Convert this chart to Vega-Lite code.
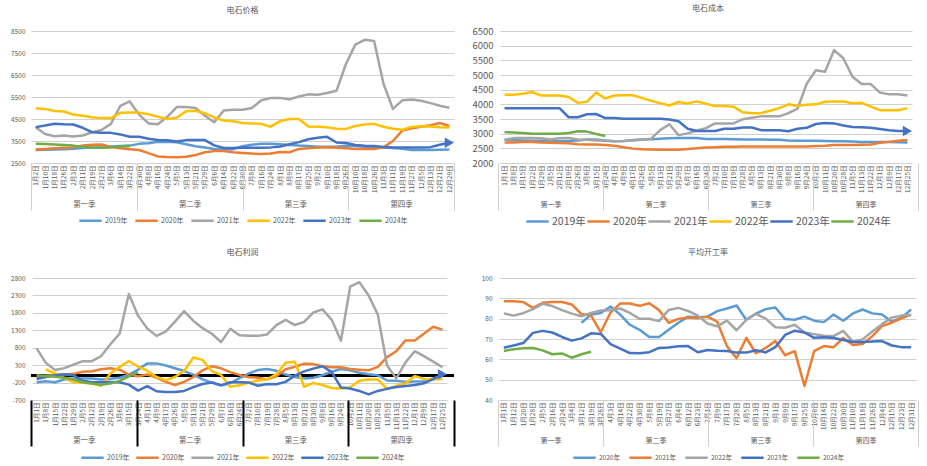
{
"$schema":"https://vega.github.io/schema/vega-lite/v6.json",
"padding":{"left":10,"top":5,"right":0,"bottom":0},
"background":"white",
"config":{"font":"Noto Sans CJK SC","view":{"stroke":null},
"title":{"fontSize":8,"fontWeight":"normal","color":"#595959","font":"Noto Sans CJK SC","anchor":"middle"},
"axis":{"labelFont":"Noto Sans CJK SC","labelColor":"#595959","gridColor":"#d0d0d0","domainColor":"#d0d0d0","tickColor":"#d0d0d0"},
"axisY":{"grid":true,"labelOverlap":false,"gridColor":"#d0d0d0","gridWidth":1},
"legend":{"layout":{"bottom":{"anchor":"middle"}},"labelFont":"Noto Sans CJK SC"}},
"columns":2,"spacing":{"row":115,"column":44},"bounds":"flush",
"resolve":{"scale":{"color":"independent"},"legend":{"color":"independent"}},
"datasets":{
"a":[
{"d":"1月2日","yr":"2019年","v":3090},{"d":"1月10日","yr":"2019年","v":3100},{"d":"1月18日","yr":"2019年","v":3110},{"d":"1月26日","yr":"2019年","v":3120},{"d":"2月3日","yr":"2019年","v":3150},{"d":"2月11日","yr":"2019年","v":3180},{"d":"2月19日","yr":"2019年","v":3200},{"d":"2月27日","yr":"2019年","v":3210},{"d":"3月6日","yr":"2019年","v":3250},{"d":"3月14日","yr":"2019年","v":3270},{"d":"3月22日","yr":"2019年","v":3290},{"d":"3月30日","yr":"2019年","v":3370},{"d":"4月8日","yr":"2019年","v":3400},{"d":"4月16日","yr":"2019年","v":3460},{"d":"4月24日","yr":"2019年","v":3470},{"d":"5月5日","yr":"2019年","v":3440},{"d":"5月13日","yr":"2019年","v":3350},{"d":"5月21日","yr":"2019年","v":3260},{"d":"5月29日","yr":"2019年","v":3200},{"d":"6月6日","yr":"2019年","v":3140},{"d":"6月14日","yr":"2019年","v":3100},{"d":"6月22日","yr":"2019年","v":3120},{"d":"6月30日","yr":"2019年","v":3260},{"d":"7月8日","yr":"2019年","v":3330},{"d":"7月16日","yr":"2019年","v":3370},{"d":"7月24日","yr":"2019年","v":3370},{"d":"8月1日","yr":"2019年","v":3350},{"d":"8月9日","yr":"2019年","v":3320},{"d":"8月17日","yr":"2019年","v":3290},{"d":"8月25日","yr":"2019年","v":3270},{"d":"9月2日","yr":"2019年","v":3240},{"d":"9月10日","yr":"2019年","v":3240},{"d":"9月18日","yr":"2019年","v":3240},{"d":"9月26日","yr":"2019年","v":3280},{"d":"10月10日","yr":"2019年","v":3270},{"d":"10月18日","yr":"2019年","v":3240},{"d":"10月26日","yr":"2019年","v":3230},{"d":"11月3日","yr":"2019年","v":3210},{"d":"11月11日","yr":"2019年","v":3180},{"d":"11月19日","yr":"2019年","v":3150},{"d":"11月27日","yr":"2019年","v":3090},{"d":"12月5日","yr":"2019年","v":3090},{"d":"12月13日","yr":"2019年","v":3090},{"d":"12月21日","yr":"2019年","v":3100},{"d":"12月29日","yr":"2019年","v":3110},
{"d":"1月2日","yr":"2020年","v":3110},{"d":"1月10日","yr":"2020年","v":3140},{"d":"1月18日","yr":"2020年","v":3170},{"d":"1月26日","yr":"2020年","v":3190},{"d":"2月3日","yr":"2020年","v":3210},{"d":"2月11日","yr":"2020年","v":3300},{"d":"2月19日","yr":"2020年","v":3330},{"d":"2月27日","yr":"2020年","v":3340},{"d":"3月6日","yr":"2020年","v":3230},{"d":"3月14日","yr":"2020年","v":3170},{"d":"3月22日","yr":"2020年","v":3130},{"d":"3月30日","yr":"2020年","v":3090},{"d":"4月8日","yr":"2020年","v":2950},{"d":"4月16日","yr":"2020年","v":2800},{"d":"4月24日","yr":"2020年","v":2770},{"d":"5月5日","yr":"2020年","v":2760},{"d":"5月13日","yr":"2020年","v":2780},{"d":"5月21日","yr":"2020年","v":2860},{"d":"5月29日","yr":"2020年","v":2990},{"d":"6月6日","yr":"2020年","v":3040},{"d":"6月14日","yr":"2020年","v":3040},{"d":"6月22日","yr":"2020年","v":2990},{"d":"6月30日","yr":"2020年","v":2960},{"d":"7月8日","yr":"2020年","v":2930},{"d":"7月16日","yr":"2020年","v":2910},{"d":"7月24日","yr":"2020年","v":2930},{"d":"8月1日","yr":"2020年","v":3000},{"d":"8月9日","yr":"2020年","v":2990},{"d":"8月17日","yr":"2020年","v":3140},{"d":"8月25日","yr":"2020年","v":3170},{"d":"9月2日","yr":"2020年","v":3200},{"d":"9月10日","yr":"2020年","v":3220},{"d":"9月18日","yr":"2020年","v":3190},{"d":"9月26日","yr":"2020年","v":3170},{"d":"10月10日","yr":"2020年","v":3140},{"d":"10月18日","yr":"2020年","v":3140},{"d":"10月26日","yr":"2020年","v":3140},{"d":"11月3日","yr":"2020年","v":3210},{"d":"11月11日","yr":"2020年","v":3500},{"d":"11月19日","yr":"2020年","v":3970},{"d":"11月27日","yr":"2020年","v":4080},{"d":"12月5日","yr":"2020年","v":4150},{"d":"12月13日","yr":"2020年","v":4220},{"d":"12月21日","yr":"2020年","v":4320},{"d":"12月29日","yr":"2020年","v":4180},
{"d":"1月2日","yr":"2021年","v":4130},{"d":"1月10日","yr":"2021年","v":3820},{"d":"1月18日","yr":"2021年","v":3720},{"d":"1月26日","yr":"2021年","v":3750},{"d":"2月3日","yr":"2021年","v":3700},{"d":"2月11日","yr":"2021年","v":3750},{"d":"2月19日","yr":"2021年","v":3900},{"d":"2月27日","yr":"2021年","v":4000},{"d":"3月6日","yr":"2021年","v":4280},{"d":"3月14日","yr":"2021年","v":5100},{"d":"3月22日","yr":"2021年","v":5300},{"d":"3月30日","yr":"2021年","v":4700},{"d":"4月8日","yr":"2021年","v":4300},{"d":"4月16日","yr":"2021年","v":4260},{"d":"4月24日","yr":"2021年","v":4600},{"d":"5月5日","yr":"2021年","v":5040},{"d":"5月13日","yr":"2021年","v":5050},{"d":"5月21日","yr":"2021年","v":5000},{"d":"5月29日","yr":"2021年","v":4650},{"d":"6月6日","yr":"2021年","v":4350},{"d":"6月14日","yr":"2021年","v":4890},{"d":"6月22日","yr":"2021年","v":4920},{"d":"6月30日","yr":"2021年","v":4920},{"d":"7月8日","yr":"2021年","v":5000},{"d":"7月16日","yr":"2021年","v":5350},{"d":"7月24日","yr":"2021年","v":5450},{"d":"8月1日","yr":"2021年","v":5460},{"d":"8月9日","yr":"2021年","v":5390},{"d":"8月17日","yr":"2021年","v":5520},{"d":"8月25日","yr":"2021年","v":5620},{"d":"9月2日","yr":"2021年","v":5600},{"d":"9月10日","yr":"2021年","v":5680},{"d":"9月18日","yr":"2021年","v":5780},{"d":"9月26日","yr":"2021年","v":7000},{"d":"10月10日","yr":"2021年","v":7880},{"d":"10月18日","yr":"2021年","v":8100},{"d":"10月26日","yr":"2021年","v":8050},{"d":"11月3日","yr":"2021年","v":6100},{"d":"11月11日","yr":"2021年","v":4960},{"d":"11月19日","yr":"2021年","v":5350},{"d":"11月27日","yr":"2021年","v":5390},{"d":"12月5日","yr":"2021年","v":5330},{"d":"12月13日","yr":"2021年","v":5220},{"d":"12月21日","yr":"2021年","v":5100},{"d":"12月29日","yr":"2021年","v":5010},
{"d":"1月2日","yr":"2022年","v":4990},{"d":"1月10日","yr":"2022年","v":4960},{"d":"1月18日","yr":"2022年","v":4860},{"d":"1月26日","yr":"2022年","v":4840},{"d":"2月3日","yr":"2022年","v":4700},{"d":"2月11日","yr":"2022年","v":4650},{"d":"2月19日","yr":"2022年","v":4580},{"d":"2月27日","yr":"2022年","v":4540},{"d":"3月6日","yr":"2022年","v":4540},{"d":"3月14日","yr":"2022年","v":4780},{"d":"3月22日","yr":"2022年","v":4800},{"d":"3月30日","yr":"2022年","v":4790},{"d":"4月8日","yr":"2022年","v":4720},{"d":"4月16日","yr":"2022年","v":4600},{"d":"4月24日","yr":"2022年","v":4500},{"d":"5月5日","yr":"2022年","v":4560},{"d":"5月13日","yr":"2022年","v":4850},{"d":"5月21日","yr":"2022年","v":4870},{"d":"5月29日","yr":"2022年","v":4760},{"d":"6月6日","yr":"2022年","v":4570},{"d":"6月14日","yr":"2022年","v":4430},{"d":"6月22日","yr":"2022年","v":4400},{"d":"6月30日","yr":"2022年","v":4320},{"d":"7月8日","yr":"2022年","v":4300},{"d":"7月16日","yr":"2022年","v":4280},{"d":"7月24日","yr":"2022年","v":4150},{"d":"8月1日","yr":"2022年","v":4400},{"d":"8月9日","yr":"2022年","v":4500},{"d":"8月17日","yr":"2022年","v":4500},{"d":"8月25日","yr":"2022年","v":4160},{"d":"9月2日","yr":"2022年","v":4150},{"d":"9月10日","yr":"2022年","v":4130},{"d":"9月18日","yr":"2022年","v":4060},{"d":"9月26日","yr":"2022年","v":4050},{"d":"10月10日","yr":"2022年","v":4180},{"d":"10月18日","yr":"2022年","v":4250},{"d":"10月26日","yr":"2022年","v":4280},{"d":"11月3日","yr":"2022年","v":4150},{"d":"11月11日","yr":"2022年","v":4060},{"d":"11月19日","yr":"2022年","v":4010},{"d":"11月27日","yr":"2022年","v":4140},{"d":"12月5日","yr":"2022年","v":4170},{"d":"12月13日","yr":"2022年","v":4160},{"d":"12月21日","yr":"2022年","v":4130},{"d":"12月29日","yr":"2022年","v":4110},
{"d":"1月2日","yr":"2023年","v":4130},{"d":"1月10日","yr":"2023年","v":4200},{"d":"1月18日","yr":"2023年","v":4280},{"d":"1月26日","yr":"2023年","v":4260},{"d":"2月3日","yr":"2023年","v":4250},{"d":"2月11日","yr":"2023年","v":4100},{"d":"2月19日","yr":"2023年","v":3900},{"d":"2月27日","yr":"2023年","v":3870},{"d":"3月6日","yr":"2023年","v":3870},{"d":"3月14日","yr":"2023年","v":3800},{"d":"3月22日","yr":"2023年","v":3690},{"d":"3月30日","yr":"2023年","v":3690},{"d":"4月8日","yr":"2023年","v":3600},{"d":"4月16日","yr":"2023年","v":3550},{"d":"4月24日","yr":"2023年","v":3530},{"d":"5月5日","yr":"2023年","v":3480},{"d":"5月13日","yr":"2023年","v":3540},{"d":"5月21日","yr":"2023年","v":3550},{"d":"5月29日","yr":"2023年","v":3540},{"d":"6月6日","yr":"2023年","v":3300},{"d":"6月14日","yr":"2023年","v":3180},{"d":"6月22日","yr":"2023年","v":3180},{"d":"6月30日","yr":"2023年","v":3200},{"d":"7月8日","yr":"2023年","v":3190},{"d":"7月16日","yr":"2023年","v":3190},{"d":"7月24日","yr":"2023年","v":3210},{"d":"8月1日","yr":"2023年","v":3250},{"d":"8月9日","yr":"2023年","v":3350},{"d":"8月17日","yr":"2023年","v":3450},{"d":"8月25日","yr":"2023年","v":3580},{"d":"9月2日","yr":"2023年","v":3650},{"d":"9月10日","yr":"2023年","v":3690},{"d":"9月18日","yr":"2023年","v":3430},{"d":"9月26日","yr":"2023年","v":3410},{"d":"10月10日","yr":"2023年","v":3320},{"d":"10月18日","yr":"2023年","v":3280},{"d":"10月26日","yr":"2023年","v":3270},{"d":"11月3日","yr":"2023年","v":3230},{"d":"11月11日","yr":"2023年","v":3200},{"d":"11月19日","yr":"2023年","v":3200},{"d":"11月27日","yr":"2023年","v":3200},{"d":"12月5日","yr":"2023年","v":3200},{"d":"12月13日","yr":"2023年","v":3220},{"d":"12月21日","yr":"2023年","v":3330},{"d":"12月29日","yr":"2023年","v":3420},
{"d":"1月2日","yr":"2024年","v":3370},{"d":"1月10日","yr":"2024年","v":3360},{"d":"1月18日","yr":"2024年","v":3340},{"d":"1月26日","yr":"2024年","v":3320},{"d":"2月3日","yr":"2024年","v":3290},{"d":"2月11日","yr":"2024年","v":3240},{"d":"2月19日","yr":"2024年","v":3210},{"d":"2月27日","yr":"2024年","v":3190},{"d":"3月6日","yr":"2024年","v":3210},{"d":"3月14日","yr":"2024年","v":3250},{"d":"3月22日","yr":"2024年","v":3260}
],
"b":[
{"d":"1月1日","yr":"2019年","v":2790},{"d":"1月8日","yr":"2019年","v":2780},{"d":"1月15日","yr":"2019年","v":2770},{"d":"1月22日","yr":"2019年","v":2760},{"d":"1月29日","yr":"2019年","v":2760},{"d":"2月5日","yr":"2019年","v":2750},{"d":"2月12日","yr":"2019年","v":2740},{"d":"2月19日","yr":"2019年","v":2750},{"d":"2月26日","yr":"2019年","v":2770},{"d":"3月6日","yr":"2019年","v":2800},{"d":"3月15日","yr":"2019年","v":2800},{"d":"3月24日","yr":"2019年","v":2760},{"d":"4月1日","yr":"2019年","v":2740},{"d":"4月9日","yr":"2019年","v":2750},{"d":"4月17日","yr":"2019年","v":2780},{"d":"4月26日","yr":"2019年","v":2800},{"d":"5月5日","yr":"2019年","v":2810},{"d":"5月13日","yr":"2019年","v":2830},{"d":"5月21日","yr":"2019年","v":2840},{"d":"5月29日","yr":"2019年","v":2850},{"d":"6月7日","yr":"2019年","v":2850},{"d":"6月16日","yr":"2019年","v":2850},{"d":"6月24日","yr":"2019年","v":2820},{"d":"7月2日","yr":"2019年","v":2820},{"d":"7月10日","yr":"2019年","v":2820},{"d":"7月19日","yr":"2019年","v":2810},{"d":"7月28日","yr":"2019年","v":2800},{"d":"8月5日","yr":"2019年","v":2800},{"d":"8月13日","yr":"2019年","v":2800},{"d":"8月21日","yr":"2019年","v":2790},{"d":"8月30日","yr":"2019年","v":2790},{"d":"9月8日","yr":"2019年","v":2770},{"d":"9月16日","yr":"2019年","v":2760},{"d":"9月24日","yr":"2019年","v":2760},{"d":"10月2日","yr":"2019年","v":2760},{"d":"10月11日","yr":"2019年","v":2750},{"d":"10月20日","yr":"2019年","v":2740},{"d":"10月28日","yr":"2019年","v":2740},{"d":"11月5日","yr":"2019年","v":2730},{"d":"11月13日","yr":"2019年","v":2720},{"d":"11月22日","yr":"2019年","v":2720},{"d":"12月1日","yr":"2019年","v":2720},{"d":"12月9日","yr":"2019年","v":2720},{"d":"12月17日","yr":"2019年","v":2710},{"d":"12月25日","yr":"2019年","v":2700},
{"d":"1月1日","yr":"2020年","v":2700},{"d":"1月8日","yr":"2020年","v":2700},{"d":"1月15日","yr":"2020年","v":2720},{"d":"1月22日","yr":"2020年","v":2720},{"d":"1月29日","yr":"2020年","v":2700},{"d":"2月5日","yr":"2020年","v":2690},{"d":"2月12日","yr":"2020年","v":2680},{"d":"2月19日","yr":"2020年","v":2670},{"d":"2月26日","yr":"2020年","v":2640},{"d":"3月6日","yr":"2020年","v":2630},{"d":"3月15日","yr":"2020年","v":2630},{"d":"3月24日","yr":"2020年","v":2610},{"d":"4月1日","yr":"2020年","v":2590},{"d":"4月9日","yr":"2020年","v":2540},{"d":"4月17日","yr":"2020年","v":2490},{"d":"4月26日","yr":"2020年","v":2470},{"d":"5月5日","yr":"2020年","v":2460},{"d":"5月13日","yr":"2020年","v":2450},{"d":"5月21日","yr":"2020年","v":2450},{"d":"5月29日","yr":"2020年","v":2450},{"d":"6月7日","yr":"2020年","v":2480},{"d":"6月16日","yr":"2020年","v":2500},{"d":"6月24日","yr":"2020年","v":2530},{"d":"7月2日","yr":"2020年","v":2540},{"d":"7月10日","yr":"2020年","v":2550},{"d":"7月19日","yr":"2020年","v":2550},{"d":"7月28日","yr":"2020年","v":2560},{"d":"8月5日","yr":"2020年","v":2560},{"d":"8月13日","yr":"2020年","v":2560},{"d":"8月21日","yr":"2020年","v":2560},{"d":"8月30日","yr":"2020年","v":2560},{"d":"9月8日","yr":"2020年","v":2560},{"d":"9月16日","yr":"2020年","v":2560},{"d":"9月24日","yr":"2020年","v":2560},{"d":"10月2日","yr":"2020年","v":2580},{"d":"10月11日","yr":"2020年","v":2590},{"d":"10月20日","yr":"2020年","v":2610},{"d":"10月28日","yr":"2020年","v":2610},{"d":"11月5日","yr":"2020年","v":2610},{"d":"11月13日","yr":"2020年","v":2620},{"d":"11月22日","yr":"2020年","v":2630},{"d":"12月1日","yr":"2020年","v":2690},{"d":"12月9日","yr":"2020年","v":2720},{"d":"12月17日","yr":"2020年","v":2760},{"d":"12月25日","yr":"2020年","v":2780},
{"d":"1月1日","yr":"2021年","v":2790},{"d":"1月8日","yr":"2021年","v":2850},{"d":"1月15日","yr":"2021年","v":2850},{"d":"1月22日","yr":"2021年","v":2850},{"d":"1月29日","yr":"2021年","v":2840},{"d":"2月5日","yr":"2021年","v":2800},{"d":"2月12日","yr":"2021年","v":2840},{"d":"2月19日","yr":"2021年","v":2850},{"d":"2月26日","yr":"2021年","v":2800},{"d":"3月6日","yr":"2021年","v":2790},{"d":"3月15日","yr":"2021年","v":2770},{"d":"3月24日","yr":"2021年","v":2770},{"d":"4月1日","yr":"2021年","v":2740},{"d":"4月9日","yr":"2021年","v":2750},{"d":"4月17日","yr":"2021年","v":2770},{"d":"4月26日","yr":"2021年","v":2790},{"d":"5月5日","yr":"2021年","v":2830},{"d":"5月13日","yr":"2021年","v":3120},{"d":"5月21日","yr":"2021年","v":3320},{"d":"5月29日","yr":"2021年","v":2950},{"d":"6月7日","yr":"2021年","v":3010},{"d":"6月16日","yr":"2021年","v":3110},{"d":"6月24日","yr":"2021年","v":3190},{"d":"7月2日","yr":"2021年","v":3350},{"d":"7月10日","yr":"2021年","v":3350},{"d":"7月19日","yr":"2021年","v":3350},{"d":"7月28日","yr":"2021年","v":3490},{"d":"8月5日","yr":"2021年","v":3540},{"d":"8月13日","yr":"2021年","v":3590},{"d":"8月21日","yr":"2021年","v":3590},{"d":"8月30日","yr":"2021年","v":3590},{"d":"9月8日","yr":"2021年","v":3700},{"d":"9月16日","yr":"2021年","v":3850},{"d":"9月24日","yr":"2021年","v":4700},{"d":"10月2日","yr":"2021年","v":5160},{"d":"10月11日","yr":"2021年","v":5110},{"d":"10月20日","yr":"2021年","v":5850},{"d":"10月28日","yr":"2021年","v":5570},{"d":"11月5日","yr":"2021年","v":4940},{"d":"11月13日","yr":"2021年","v":4690},{"d":"11月22日","yr":"2021年","v":4690},{"d":"12月1日","yr":"2021年","v":4400},{"d":"12月9日","yr":"2021年","v":4340},{"d":"12月17日","yr":"2021年","v":4340},{"d":"12月25日","yr":"2021年","v":4300},
{"d":"1月1日","yr":"2022年","v":4330},{"d":"1月8日","yr":"2022年","v":4330},{"d":"1月15日","yr":"2022年","v":4360},{"d":"1月22日","yr":"2022年","v":4420},{"d":"1月29日","yr":"2022年","v":4300},{"d":"2月5日","yr":"2022年","v":4300},{"d":"2月12日","yr":"2022年","v":4300},{"d":"2月19日","yr":"2022年","v":4250},{"d":"2月26日","yr":"2022年","v":4050},{"d":"3月6日","yr":"2022年","v":4090},{"d":"3月15日","yr":"2022年","v":4400},{"d":"3月24日","yr":"2022年","v":4200},{"d":"4月1日","yr":"2022年","v":4300},{"d":"4月9日","yr":"2022年","v":4310},{"d":"4月17日","yr":"2022年","v":4310},{"d":"4月26日","yr":"2022年","v":4220},{"d":"5月5日","yr":"2022年","v":4120},{"d":"5月13日","yr":"2022年","v":4040},{"d":"5月21日","yr":"2022年","v":3960},{"d":"5月29日","yr":"2022年","v":4080},{"d":"6月7日","yr":"2022年","v":4030},{"d":"6月16日","yr":"2022年","v":4100},{"d":"6月24日","yr":"2022年","v":4020},{"d":"7月2日","yr":"2022年","v":3940},{"d":"7月10日","yr":"2022年","v":3940},{"d":"7月19日","yr":"2022年","v":3920},{"d":"7月28日","yr":"2022年","v":3730},{"d":"8月5日","yr":"2022年","v":3700},{"d":"8月13日","yr":"2022年","v":3700},{"d":"8月21日","yr":"2022年","v":3780},{"d":"8月30日","yr":"2022年","v":3870},{"d":"9月8日","yr":"2022年","v":4000},{"d":"9月16日","yr":"2022年","v":3940},{"d":"9月24日","yr":"2022年","v":3990},{"d":"10月2日","yr":"2022年","v":4000},{"d":"10月11日","yr":"2022年","v":4090},{"d":"10月20日","yr":"2022年","v":4100},{"d":"10月28日","yr":"2022年","v":4100},{"d":"11月5日","yr":"2022年","v":4040},{"d":"11月13日","yr":"2022年","v":4050},{"d":"11月22日","yr":"2022年","v":3920},{"d":"12月1日","yr":"2022年","v":3800},{"d":"12月9日","yr":"2022年","v":3800},{"d":"12月17日","yr":"2022年","v":3800},{"d":"12月25日","yr":"2022年","v":3870},
{"d":"1月1日","yr":"2023年","v":3870},{"d":"1月8日","yr":"2023年","v":3870},{"d":"1月15日","yr":"2023年","v":3870},{"d":"1月22日","yr":"2023年","v":3870},{"d":"1月29日","yr":"2023年","v":3870},{"d":"2月5日","yr":"2023年","v":3870},{"d":"2月12日","yr":"2023年","v":3870},{"d":"2月19日","yr":"2023年","v":3560},{"d":"2月26日","yr":"2023年","v":3560},{"d":"3月6日","yr":"2023年","v":3660},{"d":"3月15日","yr":"2023年","v":3670},{"d":"3月24日","yr":"2023年","v":3530},{"d":"4月1日","yr":"2023年","v":3530},{"d":"4月9日","yr":"2023年","v":3510},{"d":"4月17日","yr":"2023年","v":3510},{"d":"4月26日","yr":"2023年","v":3510},{"d":"5月5日","yr":"2023年","v":3510},{"d":"5月13日","yr":"2023年","v":3510},{"d":"5月21日","yr":"2023年","v":3480},{"d":"5月29日","yr":"2023年","v":3420},{"d":"6月7日","yr":"2023年","v":3170},{"d":"6月16日","yr":"2023年","v":3090},{"d":"6月24日","yr":"2023年","v":3090},{"d":"7月2日","yr":"2023年","v":3090},{"d":"7月10日","yr":"2023年","v":3170},{"d":"7月19日","yr":"2023年","v":3170},{"d":"7月28日","yr":"2023年","v":3210},{"d":"8月5日","yr":"2023年","v":3210},{"d":"8月13日","yr":"2023年","v":3120},{"d":"8月21日","yr":"2023年","v":3120},{"d":"8月30日","yr":"2023年","v":3120},{"d":"9月8日","yr":"2023年","v":3080},{"d":"9月16日","yr":"2023年","v":3170},{"d":"9月24日","yr":"2023年","v":3200},{"d":"10月2日","yr":"2023年","v":3330},{"d":"10月11日","yr":"2023年","v":3360},{"d":"10月20日","yr":"2023年","v":3350},{"d":"10月28日","yr":"2023年","v":3280},{"d":"11月5日","yr":"2023年","v":3230},{"d":"11月13日","yr":"2023年","v":3220},{"d":"11月22日","yr":"2023年","v":3200},{"d":"12月1日","yr":"2023年","v":3160},{"d":"12月9日","yr":"2023年","v":3120},{"d":"12月17日","yr":"2023年","v":3090},{"d":"12月25日","yr":"2023年","v":3090},
{"d":"1月1日","yr":"2024年","v":3050},{"d":"1月8日","yr":"2024年","v":3040},{"d":"1月15日","yr":"2024年","v":3020},{"d":"1月22日","yr":"2024年","v":3000},{"d":"1月29日","yr":"2024年","v":3000},{"d":"2月5日","yr":"2024年","v":3000},{"d":"2月12日","yr":"2024年","v":3000},{"d":"2月19日","yr":"2024年","v":3020},{"d":"2月26日","yr":"2024年","v":3080},{"d":"3月6日","yr":"2024年","v":3070},{"d":"3月15日","yr":"2024年","v":2990},{"d":"3月24日","yr":"2024年","v":2920}
],
"c":[
{"d":"1月1日","yr":"2019年","v":-190},{"d":"1月8日","yr":"2019年","v":-160},{"d":"1月15日","yr":"2019年","v":-190},{"d":"1月22日","yr":"2019年","v":-110},{"d":"1月29日","yr":"2019年","v":-85},{"d":"2月5日","yr":"2019年","v":-80},{"d":"2月12日","yr":"2019年","v":-80},{"d":"2月19日","yr":"2019年","v":-110},{"d":"2月26日","yr":"2019年","v":-90},{"d":"3月6日","yr":"2019年","v":-60},{"d":"3月15日","yr":"2019年","v":20},{"d":"3月24日","yr":"2019年","v":170},{"d":"4月1日","yr":"2019年","v":350},{"d":"4月9日","yr":"2019年","v":350},{"d":"4月17日","yr":"2019年","v":290},{"d":"4月26日","yr":"2019年","v":210},{"d":"5月5日","yr":"2019年","v":130},{"d":"5月13日","yr":"2019年","v":30},{"d":"5月21日","yr":"2019年","v":-110},{"d":"5月29日","yr":"2019年","v":-200},{"d":"6月7日","yr":"2019年","v":-280},{"d":"6月16日","yr":"2019年","v":-220},{"d":"6月24日","yr":"2019年","v":-70},{"d":"7月2日","yr":"2019年","v":60},{"d":"7月10日","yr":"2019年","v":160},{"d":"7月19日","yr":"2019年","v":190},{"d":"7月28日","yr":"2019年","v":140},{"d":"8月5日","yr":"2019年","v":30},{"d":"8月13日","yr":"2019年","v":-40},{"d":"8月21日","yr":"2019年","v":-80},{"d":"8月30日","yr":"2019年","v":-60},{"d":"9月8日","yr":"2019年","v":10},{"d":"9月16日","yr":"2019年","v":110},{"d":"9月24日","yr":"2019年","v":190},{"d":"10月2日","yr":"2019年","v":150},{"d":"10月11日","yr":"2019年","v":80},{"d":"10月20日","yr":"2019年","v":40},{"d":"10月28日","yr":"2019年","v":10},{"d":"11月5日","yr":"2019年","v":-140},{"d":"11月13日","yr":"2019年","v":-150},{"d":"11月22日","yr":"2019年","v":-180},{"d":"12月1日","yr":"2019年","v":-170},{"d":"12月9日","yr":"2019年","v":-160},{"d":"12月17日","yr":"2019年","v":-80},{"d":"12月25日","yr":"2019年","v":-10},
{"d":"1月1日","yr":"2020年","v":-60},{"d":"1月8日","yr":"2020年","v":-5},{"d":"1月15日","yr":"2020年","v":20},{"d":"1月22日","yr":"2020年","v":30},{"d":"1月29日","yr":"2020年","v":50},{"d":"2月5日","yr":"2020年","v":110},{"d":"2月12日","yr":"2020年","v":125},{"d":"2月19日","yr":"2020年","v":180},{"d":"2月26日","yr":"2020年","v":210},{"d":"3月6日","yr":"2020年","v":170},{"d":"3月15日","yr":"2020年","v":30},{"d":"3月24日","yr":"2020年","v":-20},{"d":"4月1日","yr":"2020年","v":30},{"d":"4月9日","yr":"2020年","v":-60},{"d":"4月17日","yr":"2020年","v":-180},{"d":"4月26日","yr":"2020年","v":-270},{"d":"5月5日","yr":"2020年","v":-180},{"d":"5月13日","yr":"2020年","v":-40},{"d":"5月21日","yr":"2020年","v":150},{"d":"5月29日","yr":"2020年","v":270},{"d":"6月7日","yr":"2020年","v":210},{"d":"6月16日","yr":"2020年","v":100},{"d":"6月24日","yr":"2020年","v":20},{"d":"7月2日","yr":"2020年","v":-50},{"d":"7月10日","yr":"2020年","v":-60},{"d":"7月19日","yr":"2020年","v":-110},{"d":"7月28日","yr":"2020年","v":-20},{"d":"8月5日","yr":"2020年","v":180},{"d":"8月13日","yr":"2020年","v":250},{"d":"8月21日","yr":"2020年","v":340},{"d":"8月30日","yr":"2020年","v":330},{"d":"9月8日","yr":"2020年","v":270},{"d":"9月16日","yr":"2020年","v":240},{"d":"9月24日","yr":"2020年","v":240},{"d":"10月2日","yr":"2020年","v":190},{"d":"10月11日","yr":"2020年","v":170},{"d":"10月20日","yr":"2020年","v":150},{"d":"10月28日","yr":"2020年","v":250},{"d":"11月5日","yr":"2020年","v":530},{"d":"11月13日","yr":"2020年","v":700},{"d":"11月22日","yr":"2020年","v":1010},{"d":"12月1日","yr":"2020年","v":1010},{"d":"12月9日","yr":"2020年","v":1200},{"d":"12月17日","yr":"2020年","v":1400},{"d":"12月25日","yr":"2020年","v":1320},
{"d":"1月1日","yr":"2021年","v":780},{"d":"1月8日","yr":"2021年","v":365},{"d":"1月15日","yr":"2021年","v":160},{"d":"1月22日","yr":"2021年","v":215},{"d":"1月29日","yr":"2021年","v":315},{"d":"2月5日","yr":"2021年","v":415},{"d":"2月12日","yr":"2021年","v":415},{"d":"2月19日","yr":"2021年","v":560},{"d":"2月26日","yr":"2021年","v":900},{"d":"3月6日","yr":"2021年","v":1200},{"d":"3月15日","yr":"2021年","v":2340},{"d":"3月24日","yr":"2021年","v":1720},{"d":"4月1日","yr":"2021年","v":1350},{"d":"4月9日","yr":"2021年","v":1140},{"d":"4月17日","yr":"2021年","v":1260},{"d":"4月26日","yr":"2021年","v":1550},{"d":"5月5日","yr":"2021年","v":1850},{"d":"5月13日","yr":"2021年","v":1570},{"d":"5月21日","yr":"2021年","v":1360},{"d":"5月29日","yr":"2021年","v":1200},{"d":"6月7日","yr":"2021年","v":960},{"d":"6月16日","yr":"2021年","v":1340},{"d":"6月24日","yr":"2021年","v":1160},{"d":"7月2日","yr":"2021年","v":1140},{"d":"7月10日","yr":"2021年","v":1140},{"d":"7月19日","yr":"2021年","v":1180},{"d":"7月28日","yr":"2021年","v":1450},{"d":"8月5日","yr":"2021年","v":1600},{"d":"8月13日","yr":"2021年","v":1450},{"d":"8月21日","yr":"2021年","v":1540},{"d":"8月30日","yr":"2021年","v":1810},{"d":"9月8日","yr":"2021年","v":1900},{"d":"9月16日","yr":"2021年","v":1600},{"d":"9月24日","yr":"2021年","v":1000},{"d":"10月2日","yr":"2021年","v":2550},{"d":"10月11日","yr":"2021年","v":2680},{"d":"10月20日","yr":"2021年","v":2300},{"d":"10月28日","yr":"2021年","v":1750},{"d":"11月5日","yr":"2021年","v":290},{"d":"11月13日","yr":"2021年","v":-80},{"d":"11月22日","yr":"2021年","v":380},{"d":"12月1日","yr":"2021年","v":700},{"d":"12月9日","yr":"2021年","v":560},{"d":"12月17日","yr":"2021年","v":400},{"d":"12月25日","yr":"2021年","v":240},
{"d":"1月8日","yr":"2022年","v":180},{"d":"1月15日","yr":"2022年","v":60},{"d":"1月22日","yr":"2022年","v":-70},{"d":"1月29日","yr":"2022年","v":-190},{"d":"2月5日","yr":"2022年","v":-205},{"d":"2月12日","yr":"2022年","v":-225},{"d":"2月19日","yr":"2022年","v":-290},{"d":"2月26日","yr":"2022年","v":60},{"d":"3月6日","yr":"2022年","v":250},{"d":"3月15日","yr":"2022年","v":420},{"d":"3月24日","yr":"2022年","v":260},{"d":"4月1日","yr":"2022年","v":140},{"d":"4月9日","yr":"2022年","v":-40},{"d":"4月17日","yr":"2022年","v":-130},{"d":"4月26日","yr":"2022年","v":-40},{"d":"5月5日","yr":"2022年","v":140},{"d":"5月13日","yr":"2022年","v":520},{"d":"5月21日","yr":"2022年","v":450},{"d":"5月29日","yr":"2022年","v":130},{"d":"6月7日","yr":"2022年","v":20},{"d":"6月16日","yr":"2022年","v":-320},{"d":"6月24日","yr":"2022年","v":-280},{"d":"7月2日","yr":"2022年","v":-200},{"d":"7月10日","yr":"2022年","v":-140},{"d":"7月19日","yr":"2022年","v":-110},{"d":"7月28日","yr":"2022年","v":40},{"d":"8月5日","yr":"2022年","v":370},{"d":"8月13日","yr":"2022年","v":400},{"d":"8月21日","yr":"2022年","v":-320},{"d":"8月30日","yr":"2022年","v":-210},{"d":"9月8日","yr":"2022年","v":-270},{"d":"9月16日","yr":"2022年","v":-355},{"d":"9月24日","yr":"2022年","v":-370},{"d":"10月2日","yr":"2022年","v":-335},{"d":"10月11日","yr":"2022年","v":-150},{"d":"10月20日","yr":"2022年","v":-110},{"d":"10月28日","yr":"2022年","v":-110},{"d":"11月5日","yr":"2022年","v":-380},{"d":"11月13日","yr":"2022年","v":-300},{"d":"11月22日","yr":"2022年","v":-220},{"d":"12月1日","yr":"2022年","v":-10},{"d":"12月9日","yr":"2022年","v":-95},{"d":"12月17日","yr":"2022年","v":-110},{"d":"12月25日","yr":"2022年","v":-100},
{"d":"1月1日","yr":"2023年","v":-100},{"d":"1月8日","yr":"2023年","v":-40},{"d":"1月15日","yr":"2023年","v":10},{"d":"1月22日","yr":"2023年","v":40},{"d":"1月29日","yr":"2023年","v":10},{"d":"2月5日","yr":"2023年","v":-150},{"d":"2月12日","yr":"2023年","v":-190},{"d":"2月19日","yr":"2023年","v":-190},{"d":"2月26日","yr":"2023年","v":-185},{"d":"3月6日","yr":"2023年","v":-190},{"d":"3月15日","yr":"2023年","v":-260},{"d":"3月24日","yr":"2023年","v":-430},{"d":"4月1日","yr":"2023年","v":-300},{"d":"4月9日","yr":"2023年","v":-450},{"d":"4月17日","yr":"2023年","v":-470},{"d":"4月26日","yr":"2023年","v":-470},{"d":"5月5日","yr":"2023年","v":-440},{"d":"5月13日","yr":"2023年","v":-330},{"d":"5月21日","yr":"2023年","v":-240},{"d":"5月29日","yr":"2023年","v":-200},{"d":"6月7日","yr":"2023年","v":-280},{"d":"6月16日","yr":"2023年","v":-190},{"d":"6月24日","yr":"2023年","v":-190},{"d":"7月2日","yr":"2023年","v":-200},{"d":"7月10日","yr":"2023年","v":-290},{"d":"7月19日","yr":"2023年","v":-240},{"d":"7月28日","yr":"2023年","v":-250},{"d":"8月5日","yr":"2023年","v":-180},{"d":"8月13日","yr":"2023年","v":0},{"d":"8月21日","yr":"2023年","v":120},{"d":"8月30日","yr":"2023年","v":200},{"d":"9月8日","yr":"2023年","v":270},{"d":"9月16日","yr":"2023年","v":100},{"d":"9月24日","yr":"2023年","v":-340},{"d":"10月2日","yr":"2023年","v":-370},{"d":"10月11日","yr":"2023年","v":-440},{"d":"10月20日","yr":"2023年","v":-540},{"d":"10月28日","yr":"2023年","v":-440},{"d":"11月5日","yr":"2023年","v":-380},{"d":"11月13日","yr":"2023年","v":-330},{"d":"11月22日","yr":"2023年","v":-300},{"d":"12月1日","yr":"2023年","v":-270},{"d":"12月9日","yr":"2023年","v":-220},{"d":"12月17日","yr":"2023年","v":-100},{"d":"12月25日","yr":"2023年","v":40},
{"d":"1月1日","yr":"2024年","v":10},{"d":"1月8日","yr":"2024年","v":-10},{"d":"1月15日","yr":"2024年","v":-30},{"d":"1月22日","yr":"2024年","v":-60},{"d":"1月29日","yr":"2024年","v":-110},{"d":"2月5日","yr":"2024年","v":-190},{"d":"2月12日","yr":"2024年","v":-230},{"d":"2月19日","yr":"2024年","v":-260},{"d":"2月26日","yr":"2024年","v":-230},{"d":"3月6日","yr":"2024年","v":-150},{"d":"3月15日","yr":"2024年","v":-20},{"d":"3月24日","yr":"2024年","v":90}
],
"d":[
{"d":"3月12日","yr":"2020年","v":78},{"d":"3月19日","yr":"2020年","v":82},{"d":"3月26日","yr":"2020年","v":82.8},{"d":"4月3日","yr":"2020年","v":86},{"d":"4月14日","yr":"2020年","v":82},{"d":"4月22日","yr":"2020年","v":77},{"d":"4月30日","yr":"2020年","v":74.5},{"d":"5月8日","yr":"2020年","v":71},{"d":"5月19日","yr":"2020年","v":71},{"d":"5月27日","yr":"2020年","v":74.5},{"d":"6月4日","yr":"2020年","v":78},{"d":"6月12日","yr":"2020年","v":81},{"d":"6月23日","yr":"2020年","v":80.7},{"d":"7月1日","yr":"2020年","v":81},{"d":"7月9日","yr":"2020年","v":83.7},{"d":"7月17日","yr":"2020年","v":85},{"d":"7月28日","yr":"2020年","v":86.5},{"d":"8月5日","yr":"2020年","v":79.5},{"d":"8月13日","yr":"2020年","v":82.5},{"d":"8月21日","yr":"2020年","v":84.7},{"d":"9月1日","yr":"2020年","v":85.5},{"d":"9月9日","yr":"2020年","v":79.8},{"d":"9月17日","yr":"2020年","v":79.5},{"d":"9月25日","yr":"2020年","v":81},{"d":"10月6日","yr":"2020年","v":79},{"d":"10月14日","yr":"2020年","v":78.3},{"d":"10月22日","yr":"2020年","v":82},{"d":"10月30日","yr":"2020年","v":79},{"d":"11月10日","yr":"2020年","v":82.6},{"d":"11月18日","yr":"2020年","v":84.5},{"d":"11月26日","yr":"2020年","v":82.6},{"d":"12月4日","yr":"2020年","v":82},{"d":"12月15日","yr":"2020年","v":78.5},{"d":"12月23日","yr":"2020年","v":80.5},{"d":"12月31日","yr":"2020年","v":84.5},
{"d":"1月1日","yr":"2021年","v":88.6},{"d":"1月12日","yr":"2021年","v":88.6},{"d":"1月20日","yr":"2021年","v":88.2},{"d":"1月28日","yr":"2021年","v":85.3},{"d":"2月5日","yr":"2021年","v":87.8},{"d":"2月16日","yr":"2021年","v":88.2},{"d":"2月24日","yr":"2021年","v":88.2},{"d":"3月4日","yr":"2021年","v":87},{"d":"3月12日","yr":"2021年","v":82.3},{"d":"3月19日","yr":"2021年","v":81.5},{"d":"3月26日","yr":"2021年","v":73.3},{"d":"4月3日","yr":"2021年","v":83},{"d":"4月14日","yr":"2021年","v":87.5},{"d":"4月22日","yr":"2021年","v":87.5},{"d":"4月30日","yr":"2021年","v":86.3},{"d":"5月8日","yr":"2021年","v":87.6},{"d":"5月19日","yr":"2021年","v":84.2},{"d":"5月27日","yr":"2021年","v":78},{"d":"6月4日","yr":"2021年","v":79.9},{"d":"6月12日","yr":"2021年","v":80.6},{"d":"6月23日","yr":"2021年","v":80.2},{"d":"7月1日","yr":"2021年","v":81},{"d":"7月9日","yr":"2021年","v":78.5},{"d":"7月17日","yr":"2021年","v":66.5},{"d":"7月28日","yr":"2021年","v":60.5},{"d":"8月5日","yr":"2021年","v":70.5},{"d":"8月13日","yr":"2021年","v":63},{"d":"8月21日","yr":"2021年","v":65.6},{"d":"9月1日","yr":"2021年","v":69},{"d":"9月9日","yr":"2021年","v":62},{"d":"9月17日","yr":"2021年","v":64},{"d":"9月25日","yr":"2021年","v":46.9},{"d":"10月6日","yr":"2021年","v":64},{"d":"10月14日","yr":"2021年","v":66.5},{"d":"10月22日","yr":"2021年","v":66},{"d":"10月30日","yr":"2021年","v":70.5},{"d":"11月10日","yr":"2021年","v":67},{"d":"11月18日","yr":"2021年","v":67.5},{"d":"11月26日","yr":"2021年","v":71.4},{"d":"12月4日","yr":"2021年","v":76.3},{"d":"12月15日","yr":"2021年","v":78},{"d":"12月23日","yr":"2021年","v":80.2},{"d":"12月31日","yr":"2021年","v":82},
{"d":"1月1日","yr":"2022年","v":82.6},{"d":"1月12日","yr":"2022年","v":81.5},{"d":"1月20日","yr":"2022年","v":82.7},{"d":"1月28日","yr":"2022年","v":84.7},{"d":"2月5日","yr":"2022年","v":87.3},{"d":"2月16日","yr":"2022年","v":86.2},{"d":"2月24日","yr":"2022年","v":84.2},{"d":"3月4日","yr":"2022年","v":82.5},{"d":"3月12日","yr":"2022年","v":81.2},{"d":"3月19日","yr":"2022年","v":82.8},{"d":"3月26日","yr":"2022年","v":84},{"d":"4月3日","yr":"2022年","v":84.2},{"d":"4月14日","yr":"2022年","v":85},{"d":"4月22日","yr":"2022年","v":82.8},{"d":"4月30日","yr":"2022年","v":79.9},{"d":"5月8日","yr":"2022年","v":80},{"d":"5月19日","yr":"2022年","v":78.8},{"d":"5月27日","yr":"2022年","v":84.3},{"d":"6月4日","yr":"2022年","v":85.3},{"d":"6月12日","yr":"2022年","v":83.8},{"d":"6月23日","yr":"2022年","v":81.5},{"d":"7月1日","yr":"2022年","v":77.6},{"d":"7月9日","yr":"2022年","v":76.2},{"d":"7月17日","yr":"2022年","v":79},{"d":"7月28日","yr":"2022年","v":74.3},{"d":"8月5日","yr":"2022年","v":79.4},{"d":"8月13日","yr":"2022年","v":82.4},{"d":"8月21日","yr":"2022年","v":80},{"d":"9月1日","yr":"2022年","v":75.8},{"d":"9月9日","yr":"2022年","v":75.5},{"d":"9月17日","yr":"2022年","v":77},{"d":"9月25日","yr":"2022年","v":73.2},{"d":"10月6日","yr":"2022年","v":72.4},{"d":"10月14日","yr":"2022年","v":71.6},{"d":"10月22日","yr":"2022年","v":71.4},{"d":"10月30日","yr":"2022年","v":74},{"d":"11月10日","yr":"2022年","v":68.6},{"d":"11月18日","yr":"2022年","v":69.8},{"d":"11月26日","yr":"2022年","v":73.7},{"d":"12月4日","yr":"2022年","v":77.3},{"d":"12月15日","yr":"2022年","v":80.5},{"d":"12月23日","yr":"2022年","v":81.5},{"d":"12月31日","yr":"2022年","v":81.8},
{"d":"1月1日","yr":"2023年","v":65.7},{"d":"1月12日","yr":"2023年","v":66.8},{"d":"1月20日","yr":"2023年","v":68},{"d":"1月28日","yr":"2023年","v":73},{"d":"2月5日","yr":"2023年","v":74},{"d":"2月16日","yr":"2023年","v":73.2},{"d":"2月24日","yr":"2023年","v":71},{"d":"3月4日","yr":"2023年","v":69.2},{"d":"3月12日","yr":"2023年","v":70.3},{"d":"3月19日","yr":"2023年","v":72.8},{"d":"3月26日","yr":"2023年","v":72.5},{"d":"4月3日","yr":"2023年","v":67.5},{"d":"4月14日","yr":"2023年","v":65.3},{"d":"4月22日","yr":"2023年","v":63.1},{"d":"4月30日","yr":"2023年","v":63},{"d":"5月8日","yr":"2023年","v":63.5},{"d":"5月19日","yr":"2023年","v":65.6},{"d":"5月27日","yr":"2023年","v":65.8},{"d":"6月4日","yr":"2023年","v":66.4},{"d":"6月12日","yr":"2023年","v":66.5},{"d":"6月23日","yr":"2023年","v":63.5},{"d":"7月1日","yr":"2023年","v":64.6},{"d":"7月9日","yr":"2023年","v":64.2},{"d":"7月17日","yr":"2023年","v":64.1},{"d":"7月28日","yr":"2023年","v":63.3},{"d":"8月5日","yr":"2023年","v":63.3},{"d":"8月13日","yr":"2023年","v":64.5},{"d":"8月21日","yr":"2023年","v":63.4},{"d":"9月1日","yr":"2023年","v":66},{"d":"9月9日","yr":"2023年","v":72},{"d":"9月17日","yr":"2023年","v":74.1},{"d":"9月25日","yr":"2023年","v":73.2},{"d":"10月6日","yr":"2023年","v":70.6},{"d":"10月14日","yr":"2023年","v":70.9},{"d":"10月22日","yr":"2023年","v":70.5},{"d":"10月30日","yr":"2023年","v":69.5},{"d":"11月10日","yr":"2023年","v":68.5},{"d":"11月18日","yr":"2023年","v":68.5},{"d":"11月26日","yr":"2023年","v":68.8},{"d":"12月4日","yr":"2023年","v":69},{"d":"12月15日","yr":"2023年","v":66.8},{"d":"12月23日","yr":"2023年","v":66},{"d":"12月31日","yr":"2023年","v":66},
{"d":"1月1日","yr":"2024年","v":64.1},{"d":"1月12日","yr":"2024年","v":65},{"d":"1月20日","yr":"2024年","v":65.4},{"d":"1月28日","yr":"2024年","v":65.6},{"d":"2月5日","yr":"2024年","v":64.4},{"d":"2月16日","yr":"2024年","v":62.5},{"d":"2月24日","yr":"2024年","v":62.9},{"d":"3月4日","yr":"2024年","v":60.8},{"d":"3月12日","yr":"2024年","v":62.5},{"d":"3月19日","yr":"2024年","v":63.7}
],
"q":[{"q":"第一季"},{"q":"第二季"},{"q":"第三季"},{"q":"第四季"}]
},
"concat":[
{"title":{"text":"电石价格","offset":13},"width":423,"height":132,
"layer":[
{"data":{"name":"a"},"layer":[
{"mark":{"type":"line","strokeWidth":2.5,"strokeJoin":"round"},
"encoding":{
"x":{"field":"d","type":"ordinal","sort":null,"scale":{"type":"point","range":[0,423],"domain":["1月2日","1月10日","1月18日","1月26日","2月3日","2月11日","2月19日","2月27日","3月6日","3月14日","3月22日","3月30日","4月8日","4月16日","4月24日","5月5日","5月13日","5月21日","5月29日","6月6日","6月14日","6月22日","6月30日","7月8日","7月16日","7月24日","8月1日","8月9日","8月17日","8月25日","9月2日","9月10日","9月18日","9月26日","10月10日","10月18日","10月26日","11月3日","11月11日","11月19日","11月27日","12月5日","12月13日","12月21日","12月29日"]},
"axis":{"title":null,"labelAngle":270,"labelFontSize":6.5,"labelPadding":2,"ticks":false,"grid":false,"labelOverlap":false}},
"y":{"field":"v","type":"quantitative","scale":{"domain":[2500,8500],"nice":false,"zero":false},
"axis":{"title":null,"values":[2500,3500,4500,5500,6500,7500,8500],"labelFontSize":6.5,"labelPadding":6,"ticks":false,"domain":false,"grid":true,"labelOverlap":false,"labelExpr":"'' + datum.value"}},
"color":{"field":"yr","type":"nominal","scale":{"domain":["2019年","2020年","2021年","2022年","2023年","2024年"],"range":["#5B9BD5","#ED7D31","#A5A5A5","#FFC000","#4472C4","#70AD47"]},
"legend":{"orient":"bottom","direction":"horizontal","title":null,"symbolType":"stroke","symbolStrokeWidth":2.5,"symbolSize":500,"labelFontSize":7,"labelColor":"#595959","columnPadding":2,"labelOffset":2,"offset":-3}},
"order":{"value":null}}},
{"transform":[{"filter":"datum.yr == '2023年' && datum.d == '12月29日'"}],
"mark":{"type":"point","shape":"triangle-right","filled":true,"size":110,"color":"#4472C4","opacity":1},
"encoding":{"x":{"field":"d","type":"ordinal","sort":null,"axis":{"title":null,"labelAngle":270,"labelFontSize":6.5,"labelPadding":2,"ticks":false,"grid":false,"labelOverlap":false}},
"y":{"field":"v","type":"quantitative","axis":{"title":null,"values":[2500,3500,4500,5500,6500,7500,8500],"labelFontSize":6.5,"labelPadding":6,"ticks":false,"domain":false,"grid":true,"labelOverlap":false,"labelExpr":"'' + datum.value"}}}}
]},
{"data":{"name":"q"},"mark":{"type":"text","opacity":0},
"encoding":{"x":{"field":"q","type":"nominal","sort":null,"scale":{"type":"band","paddingInner":0,"paddingOuter":0},
"axis":{"orient":"bottom","offset":47,"title":null,"domain":false,"ticks":true,"tickBand":"extent","tickSize":-47,"tickColor":"#d0d0d0","tickWidth":1,"labelPadding":37,"labelAngle":0,"labelFontSize":7.5,"grid":false}}}}
],
"resolve":{"scale":{"x":"independent"}}},

{"title":{"text":"电石成本","offset":13},"width":420,"height":132,
"layer":[
{"data":{"name":"b"},"layer":[
{"mark":{"type":"line","strokeWidth":2.5,"strokeJoin":"round"},
"encoding":{
"x":{"field":"d","type":"ordinal","sort":null,"scale":{"type":"point","range":[2,414],"domain":["1月1日","1月8日","1月15日","1月22日","1月29日","2月5日","2月12日","2月19日","2月26日","3月6日","3月15日","3月24日","4月1日","4月9日","4月17日","4月26日","5月5日","5月13日","5月21日","5月29日","6月7日","6月16日","6月24日","7月2日","7月10日","7月19日","7月28日","8月5日","8月13日","8月21日","8月30日","9月8日","9月16日","9月24日","10月2日","10月11日","10月20日","10月28日","11月5日","11月13日","11月22日","12月1日","12月9日","12月17日","12月25日"]},
"axis":{"title":null,"labelAngle":270,"labelFontSize":6.5,"labelPadding":2,"ticks":false,"grid":false,"labelOverlap":false}},
"y":{"field":"v","type":"quantitative","scale":{"domain":[2000,6500],"nice":false,"zero":false},
"axis":{"title":null,"values":[2000,2500,3000,3500,4000,4500,5000,5500,6000,6500],"labelFontSize":9.5,"labelPadding":5,"ticks":false,"domain":false,"grid":true,"labelOverlap":false,"labelExpr":"'' + datum.value"}},
"color":{"field":"yr","type":"nominal","scale":{"domain":["2019年","2020年","2021年","2022年","2023年","2024年"],"range":["#5B9BD5","#ED7D31","#A5A5A5","#FFC000","#4472C4","#70AD47"]},
"legend":{"orient":"bottom","direction":"horizontal","title":null,"symbolType":"stroke","symbolStrokeWidth":2.5,"symbolSize":500,"labelFontSize":10.5,"labelColor":"#595959","columnPadding":-14,"labelOffset":2,"offset":-2}},
"order":{"value":null}}},
{"transform":[{"filter":"datum.yr == '2023年' && datum.d == '12月25日'"}],
"mark":{"type":"point","shape":"triangle-right","filled":true,"size":110,"color":"#4472C4","opacity":1},
"encoding":{"x":{"field":"d","type":"ordinal","sort":null,"axis":{"title":null,"labelAngle":270,"labelFontSize":6.5,"labelPadding":2,"ticks":false,"grid":false,"labelOverlap":false}},
"y":{"field":"v","type":"quantitative","axis":{"title":null,"values":[2000,2500,3000,3500,4000,4500,5000,5500,6000,6500],"labelFontSize":9.5,"labelPadding":5,"ticks":false,"domain":false,"grid":true,"labelOverlap":false,"labelExpr":"'' + datum.value"}}}}
]},
{"data":{"name":"q"},"mark":{"type":"text","opacity":0},
"encoding":{"x":{"field":"q","type":"nominal","sort":null,"scale":{"type":"band","paddingInner":0,"paddingOuter":0},
"axis":{"orient":"bottom","offset":47,"title":null,"domain":false,"ticks":true,"tickBand":"extent","tickSize":-47,"tickColor":"#d0d0d0","tickWidth":1,"labelPadding":37,"labelAngle":0,"labelFontSize":7,"grid":false}}}}
],
"resolve":{"scale":{"x":"independent"}}},

{"title":{"text":"电石利润","offset":18},"width":423,"height":122,
"layer":[
{"data":{"name":"c"},"layer":[
{"mark":{"type":"rule","color":"#000000","strokeWidth":2},"encoding":{"y":{"datum":0,"type":"quantitative","axis":{"title":null,"values":[-700,-200,300,800,1300,1800,2300,2800],"labelFontSize":6.5,"labelPadding":6,"ticks":false,"domain":false,"grid":true,"labelOverlap":false,"labelExpr":"'' + datum.value"}}}},
{"mark":{"type":"line","strokeWidth":2.5,"strokeJoin":"round"},
"encoding":{
"x":{"field":"d","type":"ordinal","sort":null,"scale":{"type":"point","range":[1,416],"domain":["1月1日","1月8日","1月15日","1月22日","1月29日","2月5日","2月12日","2月19日","2月26日","3月6日","3月15日","3月24日","4月1日","4月9日","4月17日","4月26日","5月5日","5月13日","5月21日","5月29日","6月7日","6月16日","6月24日","7月2日","7月10日","7月19日","7月28日","8月5日","8月13日","8月21日","8月30日","9月8日","9月16日","9月24日","10月2日","10月11日","10月20日","10月28日","11月5日","11月13日","11月22日","12月1日","12月9日","12月17日","12月25日"]},
"axis":{"title":null,"labelAngle":270,"labelFontSize":6.5,"labelPadding":2,"ticks":false,"grid":false,"labelOverlap":false}},
"y":{"field":"v","type":"quantitative","scale":{"domain":[-700,2800],"nice":false,"zero":false},
"axis":{"title":null,"values":[-700,-200,300,800,1300,1800,2300,2800],"labelFontSize":6.5,"labelPadding":6,"ticks":false,"domain":false,"grid":true,"labelOverlap":false,"labelExpr":"'' + datum.value"}},
"color":{"field":"yr","type":"nominal","scale":{"domain":["2019年","2020年","2021年","2022年","2023年","2024年"],"range":["#5B9BD5","#ED7D31","#A5A5A5","#FFC000","#4472C4","#70AD47"]},
"legend":{"orient":"bottom","direction":"horizontal","title":null,"symbolType":"stroke","symbolStrokeWidth":2.5,"symbolSize":500,"labelFontSize":7,"labelColor":"#595959","columnPadding":1,"labelOffset":2,"offset":-2}},
"order":{"value":null}}},
{"transform":[{"filter":"datum.yr == '2023年' && datum.d == '12月25日'"}],
"mark":{"type":"point","shape":"triangle-right","filled":true,"size":110,"color":"#4472C4","opacity":1},
"encoding":{"x":{"field":"d","type":"ordinal","sort":null,"axis":{"title":null,"labelAngle":270,"labelFontSize":6.5,"labelPadding":2,"ticks":false,"grid":false,"labelOverlap":false}},
"y":{"field":"v","type":"quantitative","axis":{"title":null,"values":[-700,-200,300,800,1300,1800,2300,2800],"labelFontSize":6.5,"labelPadding":6,"ticks":false,"domain":false,"grid":true,"labelOverlap":false,"labelExpr":"'' + datum.value"}}}}
]},
{"data":{"name":"q"},"mark":{"type":"text","opacity":0},
"encoding":{"x":{"field":"q","type":"nominal","sort":null,"scale":{"type":"band","paddingInner":0,"paddingOuter":0},
"axis":{"orient":"bottom","offset":46,"title":null,"domain":false,"ticks":true,"tickBand":"extent","tickSize":-46,"tickColor":"#000000","tickWidth":2,"labelPadding":36,"labelAngle":0,"labelFontSize":7.5,"grid":false}}}}
],
"resolve":{"scale":{"x":"independent"}}},

{"title":{"text":"平均开工率","offset":18},"width":420,"height":122,
"layer":[
{"data":{"name":"d"},"layer":[
{"mark":{"type":"line","strokeWidth":2.5,"strokeJoin":"round"},
"encoding":{
"x":{"field":"d","type":"ordinal","sort":null,"scale":{"type":"point","range":[1,418],"domain":["1月1日","1月12日","1月20日","1月28日","2月5日","2月16日","2月24日","3月4日","3月12日","3月19日","3月26日","4月3日","4月14日","4月22日","4月30日","5月8日","5月19日","5月27日","6月4日","6月12日","6月23日","7月1日","7月9日","7月17日","7月28日","8月5日","8月13日","8月21日","9月1日","9月9日","9月17日","9月25日","10月6日","10月14日","10月22日","10月30日","11月10日","11月18日","11月26日","12月4日","12月15日","12月23日","12月31日"]},
"axis":{"title":null,"labelAngle":270,"labelFontSize":6.5,"labelPadding":2,"ticks":false,"grid":false,"labelOverlap":false}},
"y":{"field":"v","type":"quantitative","scale":{"domain":[40,100],"nice":false,"zero":false},
"axis":{"title":null,"values":[40,50,60,70,80,90,100],"labelFontSize":6.5,"labelPadding":6,"ticks":false,"domain":false,"grid":true,"labelOverlap":false}},
"color":{"field":"yr","type":"nominal","scale":{"domain":["2020年","2021年","2022年","2023年","2024年"],"range":["#5B9BD5","#ED7D31","#A5A5A5","#4472C4","#70AD47"]},
"legend":{"orient":"bottom","direction":"horizontal","title":null,"symbolType":"stroke","symbolStrokeWidth":2.5,"symbolSize":500,"labelFontSize":6.5,"labelColor":"#595959","columnPadding":4,"labelOffset":2,"offset":-2}},
"order":{"value":null}}}
]},
{"data":{"name":"q"},"mark":{"type":"text","opacity":0},
"encoding":{"x":{"field":"q","type":"nominal","sort":null,"scale":{"type":"band","paddingInner":0,"paddingOuter":0},
"axis":{"orient":"bottom","offset":46,"title":null,"domain":false,"ticks":true,"tickBand":"extent","tickSize":-46,"tickColor":"#d0d0d0","tickWidth":1,"labelPadding":36,"labelAngle":0,"labelFontSize":7,"grid":false}}}}
],
"resolve":{"scale":{"x":"independent"}}}
]
}
